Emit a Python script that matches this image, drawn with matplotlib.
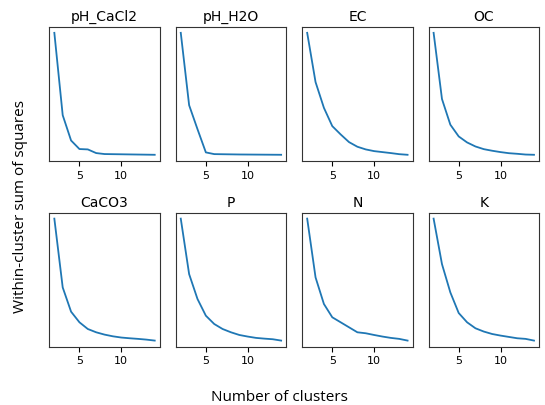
import matplotlib
matplotlib.use("Agg")
import matplotlib.pyplot as plt

# number of clusters tried for each variable
clusters = list(range(2, 15))

# within-cluster sum of squares per variable (arbitrary units)
ph_cacl2 = [100, 32.6, 11.9, 4.9, 4.6, 1.6, 0.8, 0.7, 0.6, 0.5, 0.4, 0.3, 0.2]
ph_h2o = [100, 40.8, 21.2, 2.2, 0.8, 0.7, 0.6, 0.5, 0.45, 0.4, 0.35, 0.3, 0.25]
ec = [100, 59.6, 38.5, 23.5, 16.7, 10.4, 6.6, 4.4, 3.0, 2.2, 1.4, 0.5, 0.0]
oc = [100, 45.9, 24.9, 15.3, 10.4, 7.1, 4.9, 3.6, 2.5, 1.6, 1.1, 0.5, 0.3]
caco3 = [100, 43.6, 23.7, 15.0, 9.5, 6.8, 4.9, 3.5, 2.5, 1.9, 1.4, 0.8, 0.0]
p = [100, 54.5, 34.1, 20.4, 13.6, 9.5, 6.8, 4.6, 3.3, 2.2, 1.6, 1.1, 0.0]
n = [100, 51.8, 30.0, 19.1, 15.0, 10.9, 6.8, 6.0, 4.6, 3.3, 2.2, 1.4, 0.0]
k = [100, 62.7, 39.5, 22.6, 15.0, 10.1, 7.4, 5.4, 4.1, 3.0, 1.9, 1.4, 0.0]

names = ["pH_CaCl2", "pH_H2O", "EC", "OC", "CaCO3", "P", "N", "K"]
series = [ph_cacl2, ph_h2o, ec, oc, caco3, p, n, k]

fig, axes = plt.subplots(2, 4, figsize=(5.45, 4.05), dpi=100)
fig.subplots_adjust(left=0.0905, right=0.989, top=0.934, bottom=0.144,
                    wspace=0.145, hspace=0.385)

for ax, name, wss in zip(axes.flat, names, series):
    ax.plot(clusters, wss, color="tab:blue", linewidth=1.3)
    ax.set_title(name, fontsize=10, pad=4)
    ax.set_yticks([])
    ax.set_xticks([5, 10])
    ax.tick_params(axis="x", labelsize=8)
    for s in ax.spines.values():
        s.set_linewidth(0.8)
        s.set_edgecolor("#333333")

fig.text(0.037, 0.49, "Within-cluster sum of squares", rotation=90,
         ha="center", va="center", fontsize=11, family="Open Sans")
fig.text(0.513, 0.018, "Number of clusters", ha="center", va="center",
         fontsize=11, family="Open Sans")

fig.savefig("out.png", dpi=100)
